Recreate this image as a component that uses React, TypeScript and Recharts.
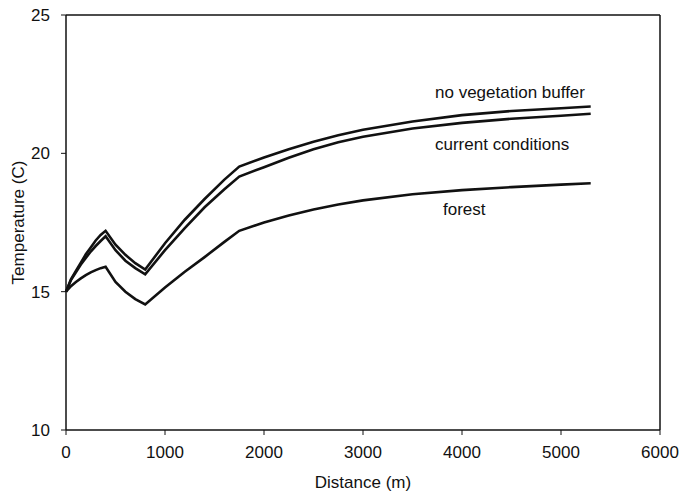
import React from 'react';
import { LineChart, Line, XAxis, YAxis, ReferenceLine, Customized, Label } from 'recharts';

const distance = [0, 50, 100, 150, 200, 250, 300, 350, 400, 500, 600, 700, 800, 1000, 1200, 1400, 1600, 1750, 2000, 2250, 2500, 2750, 3000, 3500, 4000, 4500, 5000, 5300];

const noVegetation = [15, 15.45, 15.75, 16.05, 16.35, 16.6, 16.85, 17.05, 17.2, 16.7, 16.33, 16.03, 15.8, 16.75, 17.6, 18.35, 19.05, 19.52, 19.85, 20.15, 20.42, 20.65, 20.85, 21.15, 21.38, 21.53, 21.63, 21.69];
const currentConditions = [15, 15.42, 15.7, 15.98, 16.22, 16.45, 16.65, 16.83, 17.0, 16.5, 16.12, 15.85, 15.63, 16.5, 17.3, 18.05, 18.7, 19.16, 19.5, 19.84, 20.15, 20.4, 20.6, 20.9, 21.1, 21.25, 21.36, 21.43];
const forest = [15, 15.2, 15.35, 15.48, 15.6, 15.7, 15.78, 15.85, 15.9, 15.35, 15.0, 14.73, 14.54, 15.15, 15.72, 16.25, 16.8, 17.2, 17.5, 17.75, 17.97, 18.15, 18.3, 18.52, 18.67, 18.78, 18.87, 18.92];

const xTicks = [0, 1000, 2000, 3000, 4000, 5000, 6000];
const yTicks = [10, 15, 20, 25];

const data = distance.map((d, i) => ({
  distance: d,
  noVeg: noVegetation[i],
  current: currentConditions[i],
  forest: forest[i],
}));

const font = '"Liberation Sans", Arial, sans-serif';
const ink = '#111';

const SeriesNames = () => (
  <g fontFamily={font} fontSize={17} fill={ink}>
    <text x={435} y={98}>no vegetation buffer</text>
    <text x={435} y={150}>current conditions</text>
    <text x={443} y={215}>forest</text>
  </g>
);

export default function App() {
  return (
    <div style={{ position: 'absolute', left: 0, top: 0, background: '#fff' }}>
      <LineChart width={680} height={492} data={data} margin={{ top: 15, right: 20, left: 0, bottom: 0 }}>
        <XAxis
          dataKey="distance"
          type="number"
          domain={[0, 6000]}
          ticks={xTicks}
          height={62}
          axisLine={{ stroke: ink, strokeWidth: 1.5 }}
          tickLine={{ stroke: ink }}
          tickSize={5}
          tickMargin={11}
          tick={{ fill: ink, fontSize: 17, fontFamily: font }}
        >
          <Label value="Distance (m)" position="insideBottom" offset={4} fill={ink} fontSize={17} fontFamily={font} />
        </XAxis>
        <YAxis
          type="number"
          domain={[10, 25]}
          ticks={yTicks}
          width={66}
          axisLine={{ stroke: ink, strokeWidth: 1.5 }}
          tickLine={{ stroke: ink }}
          tickSize={5}
          tickMargin={11}
          tick={{ fill: ink, fontSize: 17, fontFamily: font }}
        >
          <Label value="Temperature (C)" angle={-90} position="insideLeft" offset={18} fill={ink} fontSize={17} fontFamily={font} style={{ textAnchor: 'middle' }} />
        </YAxis>
        <ReferenceLine y={25} stroke={ink} strokeWidth={1.5} />
        <ReferenceLine x={6000} stroke={ink} strokeWidth={1.5} />
        <Line dataKey="noVeg" stroke={ink} strokeWidth={2.6} dot={false} isAnimationActive={false} />
        <Line dataKey="current" stroke={ink} strokeWidth={2.6} dot={false} isAnimationActive={false} />
        <Line dataKey="forest" stroke={ink} strokeWidth={2.6} dot={false} isAnimationActive={false} />
        <Customized component={SeriesNames} />
      </LineChart>
    </div>
  );
}
